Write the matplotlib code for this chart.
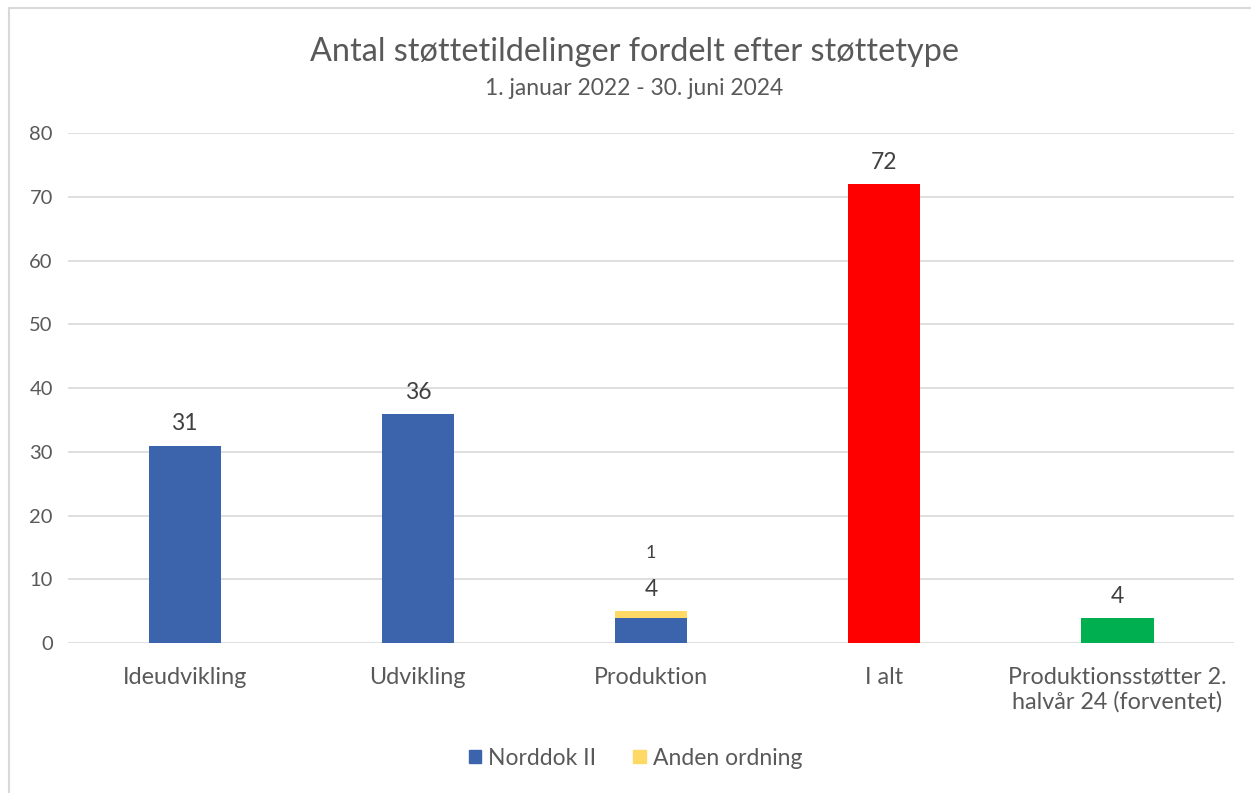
import numpy as np
import matplotlib.pyplot as plt
from matplotlib.lines import Line2D

plt.rcParams['font.family'] = ['Lato', 'DejaVu Sans']

categories = ['Ideudvikling', 'Udvikling', 'Produktion', 'I alt',
              'Produktionsstøtter 2.\nhalvår 24 (forventet)']
norddok = [31, 36, 4, 72, 4]
anden = [0, 0, 1, 0, 0]
bar_colors = ['#3B64AD', '#3B64AD', '#3B64AD', '#FF0000', '#00B050']
yticks = [0, 10, 20, 30, 40, 50, 60, 70, 80]

fig = plt.figure(figsize=(12.51, 7.93), dpi=100)
ax = fig.add_axes([0.0544, 0.189, 0.932, 0.643])

x = np.arange(len(categories))
w = 0.31
ax.bar(x, norddok, w, color=bar_colors, label='Norddok II', zorder=3)
ax.bar(x, anden, w, bottom=norddok, color='#FFD966', label='Anden ordning', zorder=3)

# labels
for i in range(len(categories)):
    top = norddok[i] + anden[i]
    ax.annotate(str(norddok[i]), (x[i], top), xytext=(0, 8), textcoords='offset points',
                ha='center', va='bottom', fontsize=16.5, color='#404040')
    if anden[i]:
        ax.annotate(str(anden[i]), (x[i], top), xytext=(0, 36), textcoords='offset points',
                    ha='center', va='bottom', fontsize=13, color='#404040')

ax.set_xlim(-0.5, len(categories) - 0.5)
ax.set_ylim(0, 80)
ax.set_yticks(yticks)
ax.set_xticks(x)
ax.set_xticklabels(categories, fontsize=16.8, color='#595959', linespacing=1.2)
ax.tick_params(axis='y', labelsize=14.5, labelcolor='#595959', length=0, pad=11)
ax.tick_params(axis='x', length=0, pad=17)
ax.grid(axis='y', color='#D9D9D9', lw=1.2, zorder=0)
for s in ax.spines.values():
    s.set_visible(False)

fig.text(0.507, 0.935, 'Antal støttetildelinger fordelt efter støttetype', ha='center', va='center',
         fontsize=23.3, color='#595959')
fig.text(0.507, 0.889, '1. januar 2022 - 30. juni 2024', ha='center', va='center',
         fontsize=16.5, color='#595959')

handles = [plt.Rectangle((0, 0), 1, 1, color='#3B64AD'), plt.Rectangle((0, 0), 1, 1, color='#FFD966')]
fig.legend(handles, ['Norddok II', 'Anden ordning'], loc='center', bbox_to_anchor=(0.508, 0.044),
           ncol=2, frameon=False, fontsize=16.5, handlelength=0.55, handleheight=0.55,
           handletextpad=0.3, columnspacing=1.6, labelcolor='#595959')

fig.add_artist(Line2D([0.0072, 0.0072], [0, 0.99], transform=fig.transFigure, color='#D9D9D9', lw=1.5))
fig.add_artist(Line2D([0.0072, 1], [0.99, 0.99], transform=fig.transFigure, color='#D9D9D9', lw=1.5))

fig.savefig('out.png', dpi=100, facecolor='white')
